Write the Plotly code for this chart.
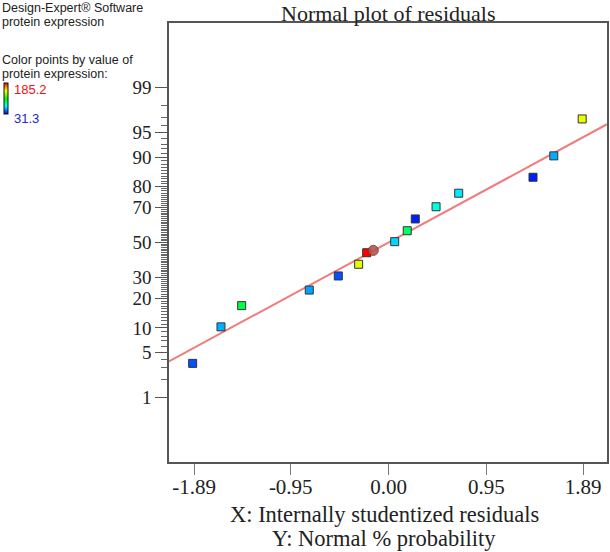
import plotly.graph_objects as go
from statistics import NormalDist

# ---------------- data ----------------
residuals = [-1.903, -1.628, -1.427, -0.770, -0.488, -0.290, -0.212, 0.060,
             0.182, 0.260, 0.462, 0.682, 1.404, 1.606, 1.882]
normal_pct = [3.5, 10.3, 17.2, 23.8, 30.8, 37.2, 43.9, 50.5,
              57.0, 63.8, 70.4, 77.0, 83.6, 90.3, 96.8]
protein_expression = [43.6, 57.5, 99.0, 55.9, 43.6, 142.1, 185.2, 63.6,
                      92.9, 35.9, 74.4, 66.7, 35.9, 57.5, 143.6]

highlight_residual = [-0.148]
highlight_pct = [45.3]

fit_slope = 0.835
fit_intercept = 0.0

x_tickvals = [-1.89, -0.95, 0.00, 0.95, 1.89]
x_ticktext = ["-1.89", "-0.95", "0.00", "0.95", "1.89"]
y_tick_pct = [1, 5, 10, 20, 30, 50, 70, 80, 90, 95, 99]
y_minor_pct = list(range(2, 99))

color_min = 31.3
color_max = 185.2

x_range = [-2.133, 2.123]
y_range_pct = [0.05, 99.95]

# ---------------- helpers ----------------
nd = NormalDist()
def z(p):
    return nd.inv_cdf(p / 100.0)

W, H = 610, 552
ML, MR, MT, MB = 169, 3, 23, 90
PW, PH = W - ML - MR, H - MT - MB

def px(x):
    return (x - ML) / PW

def py(y):
    return (H - MB - y) / PH

SERIF = "Liberation Serif, Times New Roman, serif"
SANS = "Liberation Sans, Arial, sans-serif"

colorscale = [[0.0, "#0000ff"], [0.25, "#00ffff"], [0.5, "#00ff00"],
              [0.75, "#ffff00"], [1.0, "#ff0000"]]

fig = go.Figure()

# fitted line
fit_x = list(x_range)
fit_y = [fit_slope * v + fit_intercept for v in fit_x]
fig.add_trace(go.Scatter(x=fit_x, y=fit_y, mode="lines",
                         line=dict(color="#f07c7c", width=2),
                         hoverinfo="skip", showlegend=False))

# residual points
fig.add_trace(go.Scatter(
    x=residuals, y=[z(p) for p in normal_pct], mode="markers",
    marker=dict(symbol="square", size=8, color=protein_expression,
                colorscale=colorscale, cmin=color_min, cmax=color_max,
                line=dict(color="#333333", width=1),
                showscale=True,
                colorbar=dict(x=px(4), xanchor="left",
                              y=py(83), yanchor="top",
                              lenmode="pixels", len=31,
                              thicknessmode="pixels", thickness=4,
                              xpad=0, ypad=0, outlinewidth=1,
                              outlinecolor="#111111",
                              showticklabels=False, ticks="")),
    showlegend=False))

# highlighted point
fig.add_trace(go.Scatter(
    x=highlight_residual, y=[z(p) for p in highlight_pct], mode="markers",
    marker=dict(symbol="circle", size=10, color="#b85450", opacity=0.9,
                line=dict(color="#7a3434", width=1)),
    showlegend=False))

fig.update_layout(
    width=W, height=H,
    margin=dict(l=ML, r=MR, t=MT, b=MB, pad=0, autoexpand=False),
    paper_bgcolor="white", plot_bgcolor="white",
    xaxis=dict(range=x_range, tickmode="array", tickvals=x_tickvals,
               ticktext=x_ticktext, ticks="outside", ticklen=11,
               tickcolor="#777777", tickwidth=1, ticklabelstandoff=-6,
               showgrid=False, zeroline=False,
               showline=True, linecolor="#555555", linewidth=1.5,
               mirror=True,
               tickfont=dict(family=SERIF, size=21, color="#222222")),
    yaxis=dict(range=[z(y_range_pct[0]), z(y_range_pct[1])],
               tickmode="array", tickvals=[z(p) for p in y_tick_pct],
               ticktext=[str(p) for p in y_tick_pct],
               ticks="outside", ticklen=12, tickcolor="#555555", tickwidth=1,
               minor=dict(tickmode="array",
                          tickvals=[z(p) for p in y_minor_pct],
                          ticks="outside", ticklen=6,
                          tickcolor="#666666", tickwidth=1),
               showgrid=False, zeroline=False,
               showline=True, linecolor="#555555", linewidth=1.5,
               mirror=True,
               tickfont=dict(family=SERIF, size=19, color="#222222")),
)

ann = []
ann.append(dict(text="Normal plot of residuals", x=px(388), y=py(13),
                font=dict(family=SERIF, size=22, color="#222222")))
ann.append(dict(text="X: Internally studentized residuals", x=px(384), y=py(514),
                font=dict(family=SERIF, size=22.5, color="#222222")))
ann.append(dict(text="Y: Normal % probability", x=px(384), y=py(538),
                font=dict(family=SERIF, size=22.5, color="#222222")))
left_lines = [("Design-Expert® Software", 8), ("protein expression", 22),
              ("Color points by value of", 60), ("protein expression:", 74)]
for t, yy in left_lines:
    ann.append(dict(text=t, x=px(0), y=py(yy), xanchor="left",
                    font=dict(family=SANS, size=12.5, color="#222222")))
ann.append(dict(text=f"{color_max}", x=px(12), y=py(90), xanchor="left",
                font=dict(family=SANS, size=13, color="#ee1111")))
ann.append(dict(text=f"{color_min}", x=px(12), y=py(118), xanchor="left",
                font=dict(family=SANS, size=13, color="#2222dd")))
for a in ann:
    a.setdefault("xanchor", "center")
    a.update(xref="paper", yref="paper", yanchor="middle", showarrow=False)
fig.update_layout(annotations=ann)

fig.write_html(
    "out.html",
    config={"displayModeBar": False},
    post_script="document.body.style.margin='0';document.body.style.overflow='hidden';",
)
